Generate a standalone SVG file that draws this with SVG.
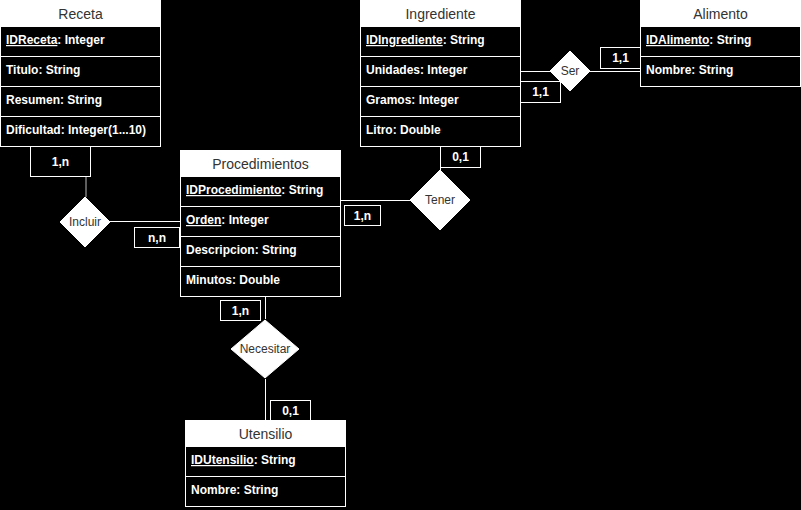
<svg xmlns="http://www.w3.org/2000/svg" width="801" height="510" viewBox="0 0 801 510">
<style>
.box{fill:#000;stroke:#fff;stroke-width:1}
.hdr{fill:#fff;stroke:#fff;stroke-width:1}
.sep{stroke:#fff;stroke-width:1}
.ht{font-family:"Liberation Sans",Arial,sans-serif;font-size:14px;fill:#333;text-anchor:middle}
.rt{font-family:"Liberation Sans",Arial,sans-serif;font-size:12px;font-weight:bold;fill:#fff}
.dia{fill:#fff;stroke:#fff;stroke-width:1}
.dt{font-family:"Liberation Sans",Arial,sans-serif;font-size:12px;fill:#333;text-anchor:middle}
.lb{fill:#000;stroke:#fff;stroke-width:1}
.lt{font-family:"Liberation Sans",Arial,sans-serif;font-size:12px;font-weight:bold;fill:#fff;text-anchor:middle}
.ln{fill:none;stroke:#fff;stroke-width:1}
</style>
<rect x="0" y="0" width="801" height="510" fill="#000"/>

<g id="connectors">
  <line class="ln" x1="86" y1="146" x2="86" y2="197" style="stroke:#bbb"/>
  <line class="ln" x1="110" y1="221.5" x2="180" y2="221.5"/>
  <line class="ln" x1="340" y1="200.5" x2="410" y2="200.5"/>
  <line class="ln" x1="440.5" y1="170" x2="440.5" y2="146"/>
  <line class="ln" x1="520" y1="71.5" x2="550" y2="71.5"/>
  <line class="ln" x1="590" y1="71.5" x2="640" y2="71.5"/>
  <line class="ln" x1="265.5" y1="296" x2="265.5" y2="319"/>
  <line class="ln" x1="265.5" y1="379" x2="265.5" y2="420"/>
  <g id="card-receta-incluir"><rect class="lb" x="30.5" y="146.5" width="60" height="30"/><text class="lt" x="60.5" y="165.5">1,n</text></g>
  <g id="card-incluir-proc"><rect class="lb" x="134.5" y="227.5" width="45" height="20"/><text class="lt" x="157" y="241.5">n,n</text></g>
  <g id="card-proc-tener"><rect class="lb" x="344.5" y="205.5" width="36" height="20"/><text class="lt" x="362.5" y="219.5">1,n</text></g>
  <g id="card-tener-ingr"><rect class="lb" x="440.5" y="146.5" width="40" height="21"/><text class="lt" x="460.5" y="161">0,1</text></g>
  <g id="card-ingr-ser"><rect class="lb" x="520.5" y="81.5" width="40" height="21"/><text class="lt" x="540.5" y="96">1,1</text></g>
  <g id="card-ser-alim"><rect class="lb" x="600.5" y="47.5" width="40" height="21"/><text class="lt" x="620.5" y="62">1,1</text></g>
  <g id="card-proc-nec"><rect class="lb" x="220.5" y="300.5" width="40" height="20"/><text class="lt" x="240.5" y="314.5">1,n</text></g>
  <g id="card-nec-ut"><rect class="lb" x="270.5" y="400.5" width="40" height="20"/><text class="lt" x="290.5" y="414.5">0,1</text></g>
</g>

<g id="receta">
  <rect class="box" x="0.5" y="0.5" width="160" height="146"/>
  <rect class="hdr" x="0.5" y="0.5" width="160" height="26"/>
  <text class="ht" x="80.5" y="18.5">Receta</text>
  <line class="sep" x1="0" y1="56.5" x2="161" y2="56.5"/>
  <line class="sep" x1="0" y1="86.5" x2="161" y2="86.5"/>
  <line class="sep" x1="0" y1="116.5" x2="161" y2="116.5"/>
  <text class="rt" x="6" y="44"><tspan text-decoration="underline">IDReceta</tspan>: Integer</text>
  <text class="rt" x="6" y="74">Titulo: String</text>
  <text class="rt" x="6" y="104">Resumen: String</text>
  <text class="rt" x="6" y="134">Dificultad: Integer(1...10)</text>
</g>

<g id="ingrediente">
  <rect class="box" x="360.5" y="0.5" width="160" height="146"/>
  <rect class="hdr" x="360.5" y="0.5" width="160" height="26"/>
  <text class="ht" x="440.5" y="18.5">Ingrediente</text>
  <line class="sep" x1="360" y1="56.5" x2="521" y2="56.5"/>
  <line class="sep" x1="360" y1="86.5" x2="521" y2="86.5"/>
  <line class="sep" x1="360" y1="116.5" x2="521" y2="116.5"/>
  <text class="rt" x="366" y="44"><tspan text-decoration="underline">IDIngrediente</tspan>: String</text>
  <text class="rt" x="366" y="74">Unidades: Integer</text>
  <text class="rt" x="366" y="104">Gramos: Integer</text>
  <text class="rt" x="366" y="134">Litro: Double</text>
</g>

<g id="alimento">
  <rect class="box" x="640.5" y="0.5" width="160" height="86"/>
  <rect class="hdr" x="640.5" y="0.5" width="160" height="26"/>
  <text class="ht" x="720.5" y="18.5">Alimento</text>
  <line class="sep" x1="640" y1="56.5" x2="801" y2="56.5"/>
  <text class="rt" x="646" y="44"><tspan text-decoration="underline">IDAlimento</tspan>: String</text>
  <text class="rt" x="646" y="74">Nombre: String</text>
</g>

<g id="procedimientos">
  <rect class="box" x="180.5" y="150.5" width="160" height="146"/>
  <rect class="hdr" x="180.5" y="150.5" width="160" height="26"/>
  <text class="ht" x="260.5" y="168.5">Procedimientos</text>
  <line class="sep" x1="180" y1="206.5" x2="341" y2="206.5"/>
  <line class="sep" x1="180" y1="236.5" x2="341" y2="236.5"/>
  <line class="sep" x1="180" y1="266.5" x2="341" y2="266.5"/>
  <text class="rt" x="186" y="194"><tspan text-decoration="underline">IDProcedimiento</tspan>: String</text>
  <text class="rt" x="186" y="224"><tspan text-decoration="underline">Orden</tspan>: Integer</text>
  <text class="rt" x="186" y="254">Descripcion: String</text>
  <text class="rt" x="186" y="284">Minutos: Double</text>
</g>

<g id="utensilio">
  <rect class="box" x="185.5" y="420.5" width="160" height="86"/>
  <rect class="hdr" x="185.5" y="420.5" width="160" height="26"/>
  <text class="ht" x="265.5" y="438.5">Utensilio</text>
  <line class="sep" x1="185" y1="476.5" x2="346" y2="476.5"/>
  <text class="rt" x="191" y="464"><tspan text-decoration="underline">IDUtensilio</tspan>: String</text>
  <text class="rt" x="191" y="494">Nombre: String</text>
</g>

<g id="incluir">
  <polygon class="dia" points="85,197 110,222 85,247 60,222"/>
  <text class="dt" x="85" y="226">Incluir</text>
</g>
<g id="tener">
  <polygon class="dia" points="440,170 470,200 440,230 410,200"/>
  <text class="dt" x="440" y="204">Tener</text>
</g>
<g id="ser">
  <polygon class="dia" points="570,51 590,71 570,91 550,71"/>
  <text class="dt" x="570" y="75">Ser</text>
</g>
<g id="necesitar">
  <polygon class="dia" points="265,320 299,349 265,378 231,349"/>
  <text class="dt" x="265" y="353">Necesitar</text>
</g>
</svg>
